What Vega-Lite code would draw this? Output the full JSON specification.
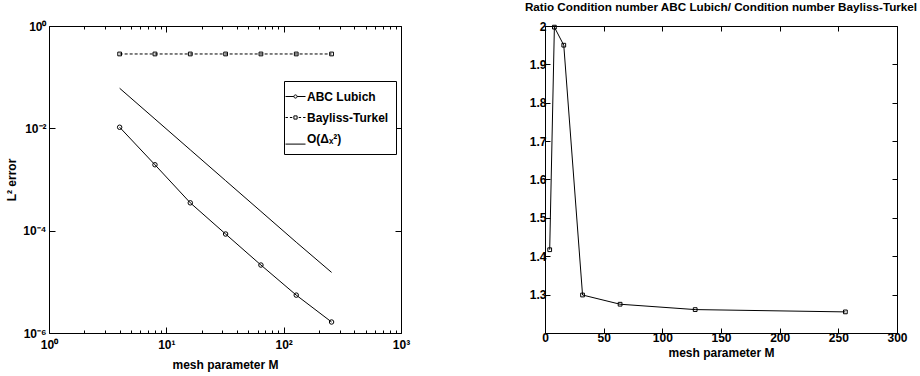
{
  "$schema": "https://vega.github.io/schema/vega-lite/v6.json",
  "padding": {"left": 5, "top": 2, "right": 5, "bottom": 5},
  "bounds": "flush",
  "spacing": 144,
  "config": {
    "font": "Liberation Sans",
    "view": {"stroke": null},
    "axis": {
      "labelFont": "Liberation Sans", "labelFontWeight": "bold", "labelFontSize": 12, "labelColor": "black",
      "titleFont": "Liberation Sans", "titleFontWeight": "bold", "titleFontSize": 12, "titleColor": "black",
      "domainColor": "black", "tickColor": "black", "grid": false, "tickSize": -5, "domainWidth": 1, "tickWidth": 1, "labelFlush": false
    },
    "title": {"font": "Liberation Sans", "fontWeight": "bold", "fontSize": 11.7, "color": "black"}
  },
  "datasets": {
    "err": [
      {"M": 4, "err": 0.0105, "series": "ABC Lubich"},
      {"M": 8, "err": 0.00194, "series": "ABC Lubich"},
      {"M": 16, "err": 0.00035, "series": "ABC Lubich"},
      {"M": 32, "err": 0.000086, "series": "ABC Lubich"},
      {"M": 64, "err": 0.0000213, "series": "ABC Lubich"},
      {"M": 128, "err": 0.0000055, "series": "ABC Lubich"},
      {"M": 256, "err": 0.00000164, "series": "ABC Lubich"},
      {"M": 4, "err": 0.284, "series": "Bayliss-Turkel"},
      {"M": 8, "err": 0.284, "series": "Bayliss-Turkel"},
      {"M": 16, "err": 0.284, "series": "Bayliss-Turkel"},
      {"M": 32, "err": 0.284, "series": "Bayliss-Turkel"},
      {"M": 64, "err": 0.284, "series": "Bayliss-Turkel"},
      {"M": 128, "err": 0.284, "series": "Bayliss-Turkel"},
      {"M": 256, "err": 0.284, "series": "Bayliss-Turkel"},
      {"M": 4, "err": 0.0607, "series": "O(Δₓ²)"},
      {"M": 8, "err": 0.0152, "series": "O(Δₓ²)"},
      {"M": 16, "err": 0.0038, "series": "O(Δₓ²)"},
      {"M": 32, "err": 0.00095, "series": "O(Δₓ²)"},
      {"M": 64, "err": 0.000238, "series": "O(Δₓ²)"},
      {"M": 128, "err": 0.0000595, "series": "O(Δₓ²)"},
      {"M": 256, "err": 0.0000153, "series": "O(Δₓ²)"}
    ],
    "ratio": [
      {"M": 4, "ratio": 1.417},
      {"M": 8, "ratio": 1.997},
      {"M": 16, "ratio": 1.95},
      {"M": 32, "ratio": 1.299},
      {"M": 64, "ratio": 1.275},
      {"M": 128, "ratio": 1.261},
      {"M": 256, "ratio": 1.255}
    ]
  },
  "hconcat": [
    {
      "width": 352,
      "height": 307,
      "data": {"name": "err"},
      "layer": [
        {
          "transform": [{"filter": "datum.series != 'Bayliss-Turkel'"}],
          "mark": {"type": "line", "color": "black", "strokeWidth": 1},
          "encoding": {
            "x": {"field": "M", "type": "quantitative",
              "scale": {"type": "log", "domain": [1, 1000], "nice": false},
              "axis": {"orient": "bottom", "title": "mesh parameter M",
                "values": [1,2,3,4,5,6,7,8,9,10,20,30,40,50,60,70,80,90,100,200,300,400,500,600,700,800,900,1000],
                "labelExpr": "datum.value == 1 ? '10⁰' : datum.value == 10 ? '10¹' : datum.value == 100 ? '10²' : datum.value == 1000 ? '10³' : ''",
                "tickSize": {"condition": {"test": "datum.value == 1 || datum.value == 10 || datum.value == 100 || datum.value == 1000", "value": -6}, "value": -3},
                "labelPadding": 12, "titlePadding": 9}},
            "y": {"field": "err", "type": "quantitative",
              "scale": {"type": "log", "domain": [0.000001, 1], "nice": false},
              "axis": {"orient": "left", "title": "L² error",
                "values": [0.000001, 0.0001, 0.01, 1],
                "labelExpr": "datum.value == 1 ? '10⁰' : datum.value == 0.01 ? '10⁻²' : datum.value == 0.0001 ? '10⁻⁴' : '10⁻⁶'",
                "tickSize": -6, "labelPadding": 9, "titlePadding": 4}},
            "detail": {"field": "series"}
          }
        },
        {
          "transform": [{"filter": "datum.series == 'Bayliss-Turkel'"}],
          "mark": {"type": "line", "color": "black", "strokeWidth": 1, "strokeDash": [3, 2]},
          "encoding": {
            "x": {"field": "M", "type": "quantitative", "axis": null},
            "y": {"field": "err", "type": "quantitative", "axis": null}
          }
        },
        {
          "transform": [{"filter": "datum.series == 'ABC Lubich'"}],
          "mark": {"type": "point", "shape": "circle", "filled": false, "color": "black", "strokeWidth": 1, "opacity": 1, "size": 20},
          "encoding": {
            "x": {"field": "M", "type": "quantitative", "axis": null},
            "y": {"field": "err", "type": "quantitative", "axis": null}
          }
        },
        {
          "transform": [{"filter": "datum.series == 'Bayliss-Turkel'"}],
          "mark": {"type": "point", "shape": "square", "filled": false, "color": "black", "strokeWidth": 1, "opacity": 1, "size": 14},
          "encoding": {
            "x": {"field": "M", "type": "quantitative",
              "scale": {"type": "log", "domain": [1, 1000], "nice": false},
              "axis": {"orient": "top", "title": null, "labels": false,
                "values": [1,2,3,4,5,6,7,8,9,10,20,30,40,50,60,70,80,90,100,200,300,400,500,600,700,800,900,1000],
                "tickSize": {"condition": {"test": "datum.value == 1 || datum.value == 10 || datum.value == 100 || datum.value == 1000", "value": -6}, "value": -3}}},
            "y": {"field": "err", "type": "quantitative",
              "scale": {"type": "log", "domain": [0.000001, 1], "nice": false},
              "axis": {"orient": "right", "title": null, "labels": false, "values": [0.000001, 0.0001, 0.01, 1], "tickSize": -6}}
          }
        },
        {
          "mark": {"type": "point", "filled": false, "color": "black", "strokeWidth": 1, "opacity": 0, "size": 1},
          "encoding": {
            "x": {"field": "M", "type": "quantitative", "axis": null},
            "y": {"field": "err", "type": "quantitative", "axis": null},
            "shape": {"field": "series", "type": "nominal",
              "scale": {"domain": ["ABC Lubich", "Bayliss-Turkel", "O(Δₓ²)"],
                "range": [
                  "M-1.25,0H-0.2M0.2,0H1.25M0.2,0A0.2,0.2,0,1,1,-0.2,0A0.2,0.2,0,1,1,0.2,0",
                  "M-1.25,0H-0.95M-0.7,0H-0.4M0.4,0H0.7M0.95,0H1.25M-0.2,-0.2H0.2V0.2H-0.2Z",
                  "M-1.25,0.7H1.25"
                ]},
              "legend": {
                "orient": "none", "legendX": 235, "legendY": 55, "title": null,
                "strokeColor": "black", "fillColor": "white", "padding": 7,
                "labelFont": "Liberation Sans", "labelFontWeight": "bold", "labelFontSize": 12, "labelColor": "black",
                "symbolSize": 256, "symbolStrokeWidth": 1, "symbolStrokeColor": "black", "symbolFillColor": "transparent",
                "symbolOpacity": 1, "rowPadding": 6, "labelOffset": 3, "symbolOffset": -4
              }}
          }
        }
      ],
      "resolve": {"axis": {"x": "independent", "y": "independent"}}
    },
    {
      "width": 352,
      "height": 307,
      "title": {"text": "Ratio Condition number ABC Lubich/ Condition number Bayliss-Turkel", "anchor": "middle", "offset": 6},
      "data": {"name": "ratio"},
      "layer": [
        {
          "mark": {"type": "line", "color": "black", "strokeWidth": 1},
          "encoding": {
            "x": {"field": "M", "type": "quantitative",
              "scale": {"domain": [0, 300], "nice": false},
              "axis": {"orient": "bottom", "title": "mesh parameter M", "values": [0, 50, 100, 150, 200, 250, 300], "labelPadding": 4, "titlePadding": 4}},
            "y": {"field": "ratio", "type": "quantitative",
              "scale": {"domain": [1.2, 2], "nice": false, "zero": false},
              "axis": {"orient": "left", "title": null, "values": [1.3, 1.4, 1.5, 1.6, 1.7, 1.8, 1.9, 2], "format": "~g", "labelPadding": 4}}
          }
        },
        {
          "mark": {"type": "point", "shape": "square", "filled": false, "color": "black", "strokeWidth": 1, "opacity": 1, "size": 14},
          "encoding": {
            "x": {"field": "M", "type": "quantitative",
              "scale": {"domain": [0, 300], "nice": false},
              "axis": {"orient": "top", "title": null, "labels": false, "values": [0, 50, 100, 150, 200, 250, 300]}},
            "y": {"field": "ratio", "type": "quantitative",
              "scale": {"domain": [1.2, 2], "nice": false, "zero": false},
              "axis": {"orient": "right", "title": null, "labels": false, "values": [1.3, 1.4, 1.5, 1.6, 1.7, 1.8, 1.9, 2]}}
          }
        }
      ],
      "resolve": {"axis": {"x": "independent", "y": "independent"}}
    }
  ]
}
